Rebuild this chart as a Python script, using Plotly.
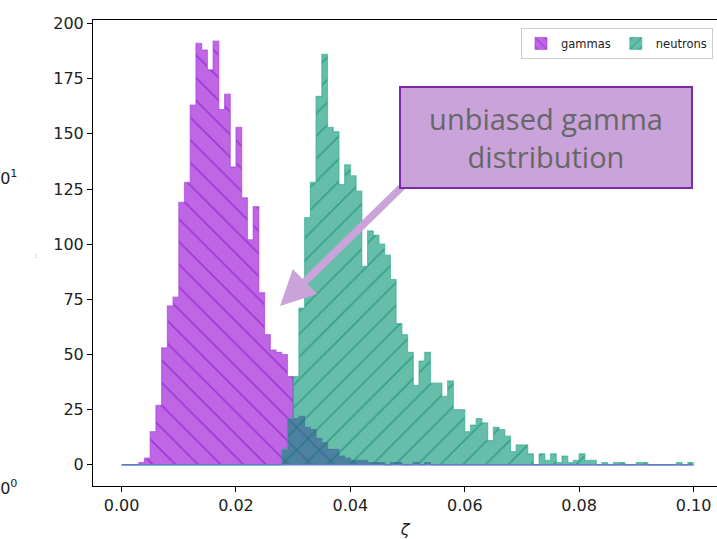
import numpy as np
import plotly.graph_objects as go

# 100 equal-width bins over the discrimination parameter
bin_edges = np.linspace(0.0, 0.1, 101)

gamma_counts = [
    0, 0, 0, 1, 3, 15, 27, 53, 72, 76,
    119, 128, 163, 191, 188, 179, 192, 161, 168, 135,
    153, 121, 102, 117, 78, 59, 52, 51, 50, 40,
    21, 22, 17, 16, 12, 10, 7, 7, 4, 3,
    2, 2, 2, 1, 1, 1, 0, 1, 1, 0,
    0, 1, 0, 1, 0, 0, 0, 0, 0, 0,
    0, 0, 0, 0, 0, 0, 0, 0, 0, 0,
    0, 0, 0, 0, 0, 0, 0, 0, 0, 0,
    0, 0, 0, 0, 0, 0, 0, 0, 0, 0,
    0, 0, 0, 0, 0, 0, 0, 0, 0, 0,
]

neutron_counts = [
    0, 0, 0, 0, 0, 0, 0, 0, 0, 0,
    0, 0, 0, 0, 0, 0, 0, 0, 0, 0,
    0, 0, 0, 0, 0, 0, 0, 0, 7, 21,
    40, 71, 112, 128, 167, 186, 153, 151, 127, 136,
    131, 124, 90, 106, 104, 100, 95, 84, 64, 59,
    51, 36, 47, 51, 37, 37, 31, 38, 25, 25,
    15, 18, 21, 19, 11, 17, 16, 13, 6, 9,
    9, 5, 0, 5, 2, 5, 1, 4, 1, 2,
    5, 2, 2, 0, 1, 0, 1, 1, 0, 0,
    1, 1, 0, 0, 0, 0, 0, 1, 0, 1,
]

x_ticks = [0.0, 0.02, 0.04, 0.06, 0.08, 0.10]
y_ticks = [0, 25, 50, 75, 100, 125, 150, 175, 200]

TEXT = "#222222"

styles = {
    "gammas": dict(fill="rgba(148,0,211,0.6)", hatch_color="rgba(120,0,190,0.45)",
                   hatch="\\", edge="rgba(165,60,220,0.6)"),
    "neutrons": dict(fill="rgba(0,147,113,0.6)", hatch_color="rgba(0,120,95,0.45)",
                     hatch="/", edge="rgba(40,170,140,0.6)"),
}


def pattern(st):
    return dict(shape=st["hatch"], fgcolor=st["hatch_color"], bgcolor=st["fill"],
                size=16, solidity=0.1, fillmode="replace")


def step_hist(name, counts):
    """Filled step histogram with a hatch pattern (like histtype='stepfilled')."""
    st = styles[name]
    y = list(counts) + [counts[-1]]
    return go.Scatter(
        x=bin_edges,
        y=y,
        name=name,
        legendgroup=name,
        showlegend=False,
        mode="lines",
        line=dict(shape="hv", color=st["edge"], width=1.2),
        fill="tozeroy",
        fillcolor=st["fill"],
        fillpattern=pattern(st),
    )


def legend_patch(name):
    """Square hatched swatch for the legend entry."""
    st = styles[name]
    return go.Bar(
        x=[None], y=[None], name=name, legendgroup=name,
        marker=dict(color=st["fill"], line=dict(color=st["edge"], width=1),
                    pattern=dict(shape=st["hatch"], fgcolor=st["hatch_color"],
                                 bgcolor=st["fill"], size=8, solidity=0.15,
                                 fillmode="replace")),
    )


fig = go.Figure()
fig.add_trace(step_hist("gammas", gamma_counts))
fig.add_trace(step_hist("neutrons", neutron_counts))
# shared baseline of both outlines
fig.add_trace(go.Scatter(
    x=[bin_edges[0], bin_edges[-1]], y=[0, 0], mode="lines",
    line=dict(color="rgb(95,128,200)", width=1.5),
    showlegend=False, hoverinfo="skip",
))
fig.add_trace(legend_patch("gammas"))
fig.add_trace(legend_patch("neutrons"))

fig.update_layout(
    width=717,
    height=539,
    margin=dict(l=93, r=0, t=20, b=53),
    plot_bgcolor="white",
    paper_bgcolor="white",
    font=dict(family="DejaVu Sans", size=16, color=TEXT),
    showlegend=True,
    legend=dict(
        orientation="h",
        x=0.9936, xanchor="right",
        y=0.983, yanchor="top",
        bgcolor="white",
        bordercolor="#cccccc",
        borderwidth=1,
        font=dict(size=11.5, color=TEXT),
        itemwidth=30,
    ),
    xaxis=dict(
        range=[-0.005, 0.1041],
        tickvals=x_ticks,
        ticktext=[f"{v:.2f}" for v in x_ticks],
        showline=True, linecolor="black", linewidth=1, mirror=True,
        ticks="outside", ticklen=5, tickcolor="black",
        showgrid=False, zeroline=False,
        title=dict(text="<i>ζ</i>", font=dict(size=16), standoff=10),
    ),
    yaxis=dict(
        range=[-9.6, 201.6],
        tickvals=y_ticks,
        showline=True, linecolor="black", linewidth=1, mirror=False,
        ticks="outside", ticklen=5, tickcolor="black",
        showgrid=False, zeroline=False,
    ),
    annotations=[
        # leftover labels of a log-scaled axis peeking in at the left edge
        dict(text="10<sup>1</sup>", xref="paper", yref="paper",
             x=-0.1186, y=0.662, xanchor="right", yanchor="middle",
             showarrow=False, font=dict(size=16, color=TEXT)),
        dict(text="10<sup>0</sup>", xref="paper", yref="paper",
             x=-0.1186, y=-0.004, xanchor="right", yanchor="middle",
             showarrow=False, font=dict(size=16, color=TEXT)),
        dict(text=":", xref="paper", yref="paper",
             x=-0.0906, y=0.493, xanchor="center", yanchor="middle",
             showarrow=False, font=dict(size=7, color="#555555")),
        # arrow pointing at the gap beside the gamma peak
        dict(text="", x=0.0277, y=72.0, xref="x", yref="y",
             ax=130, ay=-127, showarrow=True,
             arrowhead=2, arrowsize=0.93, arrowwidth=7.5,
             arrowcolor="#c9a3d9", standoff=0),
        dict(text="unbiased gamma<br>distribution",
             xref="paper", yref="paper",
             x=(546 - 93) / 624, y=(486 - 137.5) / 466,
             xanchor="center", yanchor="middle", showarrow=False,
             font=dict(family="Open Sans", size=29, color="#676767"),
             bgcolor="#c9a3d9", bordercolor="#7b2aa8",
             borderwidth=2, borderpad=0, width=290, height=99),
    ],
)

fig.write_html("out.html")
